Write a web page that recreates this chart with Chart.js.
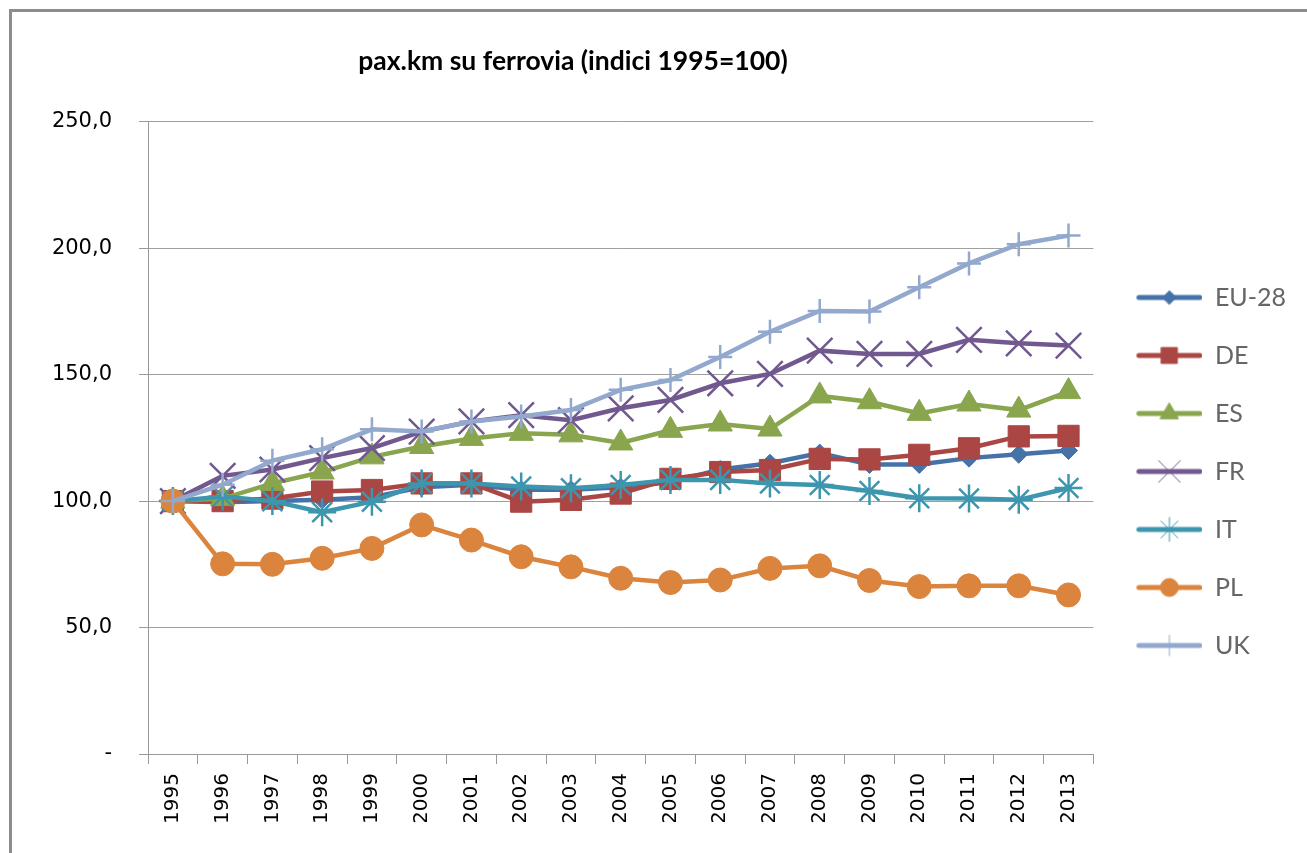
<!DOCTYPE html>
<html>
<head>
<meta charset="utf-8">
<script src="https://cdn.jsdelivr.net/npm/chart.js"></script>
<style>
  html, body { margin: 0; padding: 0; background: #fff; }
  #wrap { position: relative; width: 1307px; height: 853px; }
  #frame { position: absolute; left: 9px; top: 9px; right: -10px; bottom: -10px;
           border-left: 3px solid #8c8c8c; border-top: 3px solid #8c8c8c; pointer-events: none; }
</style>
</head>
<body>
<div id="wrap">
  <canvas id="chart" width="1307" height="853"></canvas>
  <div id="frame"></div>
</div>
<script>
const years = ['1995', '1996', '1997', '1998', '1999', '2000', '2001', '2002', '2003', '2004',
               '2005', '2006', '2007', '2008', '2009', '2010', '2011', '2012', '2013']
const eu28 = [100, 99.6, 100, 100.5, 101.5, 105.5, 106.5, 104.5, 104.5, 105.5, 107.5, 112.5, 115, 119, 114.5, 114.5, 117, 118.5, 120]
const de = [100, 100, 101, 103.8, 104.4, 107, 107, 99.8, 100.5, 103, 108.8, 111.5, 112.3, 116.7, 116.5, 118.3, 120.9, 125.6, 125.8]
const es = [100, 101, 107, 111.5, 117.5, 121.6, 124.8, 126.8, 126.2, 123, 128, 130.5, 128.5, 141.6, 139.3, 134.7, 138.4, 136, 143.3]
const fr = [100, 110, 112.5, 117, 121, 127.5, 131.5, 134, 132, 136.7, 140, 146.6, 150.3, 159.5, 158.2, 158.2, 163.8, 162.4, 161.5]
const it = [100, 101.8, 100, 95.6, 99.8, 107, 107, 105.8, 105.1, 106.4, 108.4, 108.4, 107, 106.4, 104, 101.1, 101, 100.5, 105.2]
const pl = [100, 75.2, 75, 77.4, 81.3, 90.6, 84.6, 78, 74, 69.5, 67.8, 68.8, 73.4, 74.4, 68.6, 66.2, 66.5, 66.5, 62.9]
const uk = [100, 106.5, 116, 120.5, 128.4, 127.5, 131.5, 133.5, 136, 144, 147.9, 157, 167, 175.2, 175, 184.6, 194, 201.6, 205]

const series = [
    {label: 'EU-28', data: eu28, color: '#4572A7', style: 'rectRot', radius: 9, bw: 1},
    {label: 'DE', data: de, color: '#AA4643', style: 'rect', radius: 15, bw: 1},
    {label: 'ES', data: es, color: '#89A54E', style: 'triangle', radius: 14, bw: 1},
    {label: 'FR', data: fr, color: '#71588F', style: 'crossRot', radius: 18, bw: 2.5},
    {label: 'IT', data: it, color: '#3D96AE', style: 'star', radius: 14, bw: 2.5},
    {label: 'PL', data: pl, color: '#DB843D', style: 'circle', radius: 12, bw: 1},
    {label: 'UK', data: uk, color: '#92A8CD', style: 'cross', radius: 12, bw: 2.5},
]

// legend icon: line with the marker in the middle, like Excel
function legendIcon(s) {
    const c = document.createElement('canvas')
    c.width = 76
    c.height = 30
    const g = c.getContext('2d')
    g.strokeStyle = s.color
    g.fillStyle = s.color
    g.lineWidth = 5
    g.lineCap = 'round'
    g.beginPath()
    g.moveTo(12.5, 15)
    g.lineTo(73.5, 15)
    g.stroke()
    const thin = ['crossRot', 'star', 'cross'].includes(s.style)
    g.lineWidth = 1
    const r = thin ? s.radius * 0.85 : s.radius * 0.75
    if (Chart.helpers && Chart.helpers.drawPoint) {
        Chart.helpers.drawPoint(g, {pointStyle: s.style, radius: r, borderWidth: 1, rotation: 0}, 43, 15)
    }
    return c
}

const datasets = series.map((s, i) => ({
    label: s.label,
    data: s.data,
    borderColor: s.color,
    backgroundColor: s.color,
    borderWidth: 4.5,
    pointStyle: s.style,
    pointRadius: s.radius,
    pointHoverRadius: s.radius,
    pointBorderWidth: s.bw,
    pointBackgroundColor: s.color,
    pointBorderColor: s.color,
    tension: 0,
    order: series.length - i,
}))

const icons = series.map(legendIcon)

const shiftTitle = {
    id: 'shiftTitle',
    afterLayout(chart) {
        if (chart.titleBlock) {
            chart.titleBlock.left = 0
            chart.titleBlock.right = 1146
        }
    }
}

const ctx = document.getElementById('chart')
window.myLine = new Chart(ctx, {
    type: 'line',
    data: {labels: years, datasets: datasets},
    options: {
        responsive: false,
        animation: false,
        layout: {padding: {left: 0, right: 11, top: 0, bottom: 31}},
        plugins: {
            title: {
                display: true,
                text: 'pax.km su ferrovia (indici 1995=100)',
                color: '#000',
                font: {family: 'Lato', size: 26.5, weight: 'bold'},
                padding: {top: 46, bottom: 44},
            },
            legend: {
                position: 'right',
                align: 'start',
                title: {display: true, text: ' ', font: {size: 10}, padding: {top: 0, bottom: 240}},
                labels: {
                    usePointStyle: true,
                    pointStyleWidth: 76,
                    padding: 33,
                    color: '#000',
                    font: {family: 'Lato', size: 25},
                    generateLabels: () => series.map((s, i) => ({
                        text: s.label,
                        pointStyle: icons[i],
                        fillStyle: s.color,
                        strokeStyle: s.color,
                        lineWidth: 0,
                        datasetIndex: i,
                        hidden: false,
                    })),
                },
            },
            tooltip: {enabled: false},
        },
        scales: {
            x: {
                offset: true,
                grid: {offset: true, drawOnChartArea: false, tickLength: 10, color: '#999', tickColor: '#999'},
                border: {color: '#999'},
                ticks: {
                    autoSkip: false, minRotation: 90, maxRotation: 90, padding: 9,
                    color: '#000', font: {family: 'DejaVu Sans', size: 20},
                },
                afterFit(scale) { scale.height = 68 },
            },
            y: {
                min: 0,
                max: 250,
                grid: {color: '#a0a0a0', tickLength: 9, tickColor: '#999'},
                border: {color: '#999'},
                ticks: {
                    stepSize: 50, padding: 27, color: '#000',
                    font: {family: 'DejaVu Sans', size: 21},
                    callback: v => v === 0 ? '-' : v.toFixed(1).replace('.', ','),
                },
                afterFit(scale) { scale.width = 148 },
            },
        },
    },
    plugins: [shiftTitle],
})
</script>
</body>
</html>
